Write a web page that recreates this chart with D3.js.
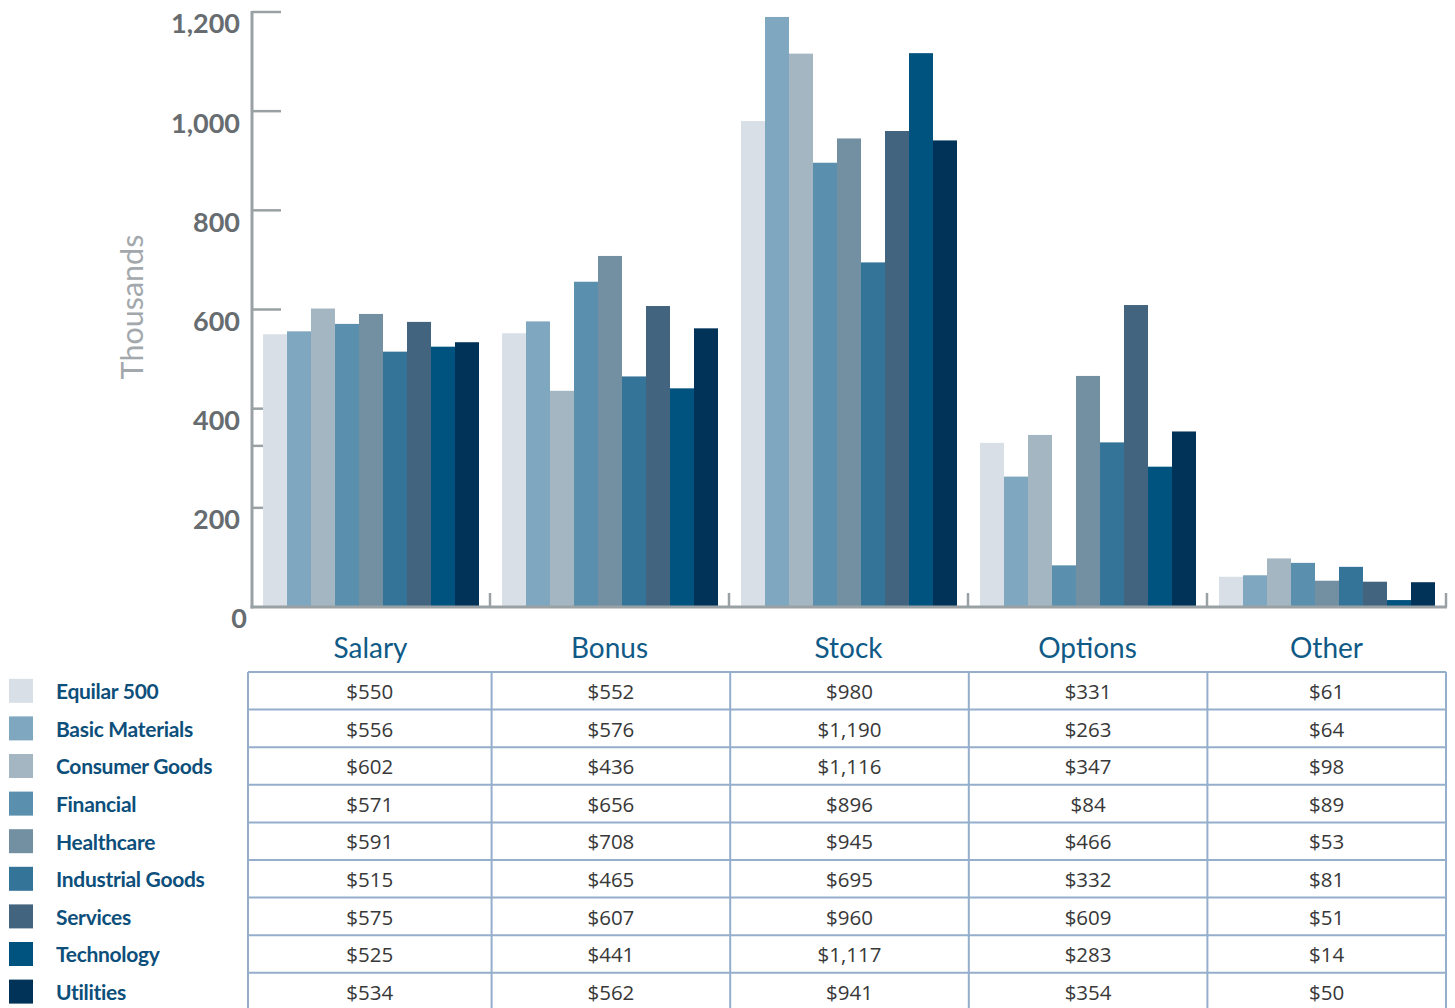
<!DOCTYPE html>
<html>
<head>
<meta charset="utf-8">
<script src="https://cdn.jsdelivr.net/npm/d3@7"></script>
<style>
  html, body { margin: 0; padding: 0; background: #ffffff; }
  svg { display: block; }
</style>
</head>
<body>
<svg id="chart" width="1455" height="1008"></svg>
<script>
// Pay components (columns of the table, groups of bars)
const categories = ["Salary", "Bonus", "Stock", "Options", "Other"];

// Industry series
const series = ["Equilar 500", "Basic Materials", "Consumer Goods", "Financial",
                "Healthcare", "Industrial Goods", "Services", "Technology", "Utilities"];

// Values in thousands of dollars, one array per component, ordered as `series`
const salary  = [550, 556, 602, 571, 591, 515, 575, 525, 534];
const bonus   = [552, 576, 436, 656, 708, 465, 607, 441, 562];
const stock   = [980, 1190, 1116, 896, 945, 695, 960, 1117, 941];
const options = [331, 263, 347, 84, 466, 332, 609, 283, 354];
const other   = [61, 64, 98, 89, 53, 81, 51, 14, 50];

const yTicks = [0, 200, 400, 600, 800, 1000, 1200];
const yMinorTicks = [325];

const colors = ["#d8dfe6", "#7fa8c0", "#a5b6c3", "#5a8fad", "#738fa2",
                "#357499", "#42647f", "#00527f", "#013257"];

const valuesByCategory = { Salary: salary, Bonus: bonus, Stock: stock, Options: options, Other: other };

const svg = d3.select("#chart");

const plotLeft = 252, plotRight = 1447, plotTop = 12, plotBottom = 607;

const y = d3.scaleLinear().domain([0, 1200]).range([plotBottom, plotTop]);
const x0 = d3.scaleBand().domain(categories).range([plotLeft, plotRight]).padding(0);
const x1 = d3.scaleBand().domain(series).range([11, 227]).padding(0);
const color = d3.scaleOrdinal().domain(series).range(colors);

const axisColor = "#9aa1a5";

// Y axis ticks (drawn first so bars sit on top)
const gTicks = svg.append("g");
gTicks.selectAll("line.major")
  .data(yTicks.filter(d => d > 0))
  .join("line")
  .attr("x1", plotLeft).attr("x2", plotLeft + 29)
  .attr("y1", d => y(d)).attr("y2", d => y(d))
  .attr("stroke", axisColor).attr("stroke-width", 2.5);
gTicks.selectAll("line.minor")
  .data(yMinorTicks)
  .join("line")
  .attr("x1", plotLeft).attr("x2", plotLeft + 12)
  .attr("y1", d => y(d)).attr("y2", d => y(d))
  .attr("stroke", axisColor).attr("stroke-width", 2.5);

// Bars
const groups = svg.append("g").selectAll("g")
  .data(categories)
  .join("g")
  .attr("transform", d => `translate(${x0(d)},0)`);

groups.selectAll("rect")
  .data(c => series.map((s, i) => ({ s, v: valuesByCategory[c][i] })))
  .join("rect")
  .attr("x", d => x1(d.s))
  .attr("width", x1.bandwidth())
  .attr("y", d => y(d.v))
  .attr("height", d => y(0) - y(d.v))
  .attr("fill", d => color(d.s));

// Y axis line
svg.append("line")
  .attr("x1", plotLeft).attr("x2", plotLeft)
  .attr("y1", y(1200) - 1).attr("y2", plotBottom + 1.5)
  .attr("stroke", axisColor).attr("stroke-width", 3);

// Baseline and group separators
svg.append("line")
  .attr("x1", plotLeft - 1.5).attr("x2", plotRight)
  .attr("y1", plotBottom).attr("y2", plotBottom)
  .attr("stroke", axisColor).attr("stroke-width", 3);

svg.append("g").selectAll("line")
  .data(categories)
  .join("line")
  .attr("x1", d => x0(d) + x0.bandwidth() - 1)
  .attr("x2", d => x0(d) + x0.bandwidth() - 1)
  .attr("y1", plotBottom - 14).attr("y2", plotBottom)
  .attr("stroke", axisColor).attr("stroke-width", 2.5);

// Y tick labels
const fmt = d3.format(",");
svg.append("g").selectAll("text")
  .data(yTicks)
  .join("text")
  .attr("x", d => d === 0 ? 247 : 240)
  .attr("y", d => y(d) + 12)
  .attr("dy", "0.35em")
  .attr("text-anchor", "end")
  .attr("font-family", "Lato, 'Open Sans', sans-serif")
  .attr("font-weight", 700)
  .attr("font-size", 27)
  .attr("fill", "#666c70")
  .text(d => fmt(d));

// Y axis title
svg.append("text")
  .attr("transform", "translate(132,307) rotate(-90)")
  .attr("text-anchor", "middle")
  .attr("dy", "0.35em")
  .attr("font-family", "Lato, 'Open Sans', sans-serif")
  .attr("font-weight", 400)
  .attr("font-size", 30.5)
  .attr("fill", "#a3a8ac")
  .text("Thousands");

// Category labels
svg.append("g").selectAll("text")
  .data(categories)
  .join("text")
  .attr("x", d => x0(d) + x0.bandwidth() / 2 - 1)
  .attr("y", 648)
  .attr("dy", "0.35em")
  .attr("text-anchor", "middle")
  .attr("font-family", "Lato, 'Open Sans', sans-serif")
  .attr("font-size", 28)
  .attr("fill", "#0f5a86")
  .text(d => d);

// Data table
const tableTop = 672, rowH = 37.6;
const tableLeft = 248, tableRight = 1446;
const firstColExtra = 5; // first column is a little wider than the rest
const tx = d3.scaleBand().domain(categories).range([tableLeft + firstColExtra, tableRight]).padding(0);
const colLeft = c => c === categories[0] ? tableLeft : tx(c);
const colCenter = c => (colLeft(c) + tx(c) + tx.bandwidth()) / 2;
const ty = d3.scaleBand().domain(series).range([tableTop, tableTop + rowH * series.length]).padding(0);
const gridColor = "#94aecb";

const table = svg.append("g");
// horizontal rules
table.selectAll("line.h")
  .data(series.map(s => ty(s)).concat([ty(series[series.length - 1]) + ty.bandwidth()]))
  .join("line")
  .attr("x1", tableLeft).attr("x2", tableRight)
  .attr("y1", d => d).attr("y2", d => d)
  .attr("stroke", gridColor).attr("stroke-width", 2);
// vertical rules
table.selectAll("line.v")
  .data(categories.map(c => colLeft(c)).concat([tableRight]))
  .join("line")
  .attr("x1", d => d).attr("x2", d => d)
  .attr("y1", tableTop).attr("y2", tableTop + rowH * series.length)
  .attr("stroke", gridColor).attr("stroke-width", 2);

const dollar = d3.format("$,");
categories.forEach(c => {
  table.append("g").selectAll("text")
    .data(series.map((s, i) => ({ s, v: valuesByCategory[c][i] })))
    .join("text")
    .attr("x", colCenter(c))
    .attr("y", d => ty(d.s) + ty.bandwidth() / 2 + 1)
    .attr("dy", "0.35em")
    .attr("text-anchor", "middle")
    .attr("font-family", "'Open Sans', sans-serif")
    .attr("font-size", 20.5)
    .attr("fill", "#383838")
    .text(d => dollar(d.v));
});

// Legend
const legend = svg.append("g").selectAll("g")
  .data(series)
  .join("g")
  .attr("transform", d => `translate(9,${ty(d) + ty.bandwidth() / 2})`);

legend.append("rect")
  .attr("x", 0).attr("y", -12)
  .attr("width", 24).attr("height", 24)
  .attr("fill", d => color(d));

legend.append("text")
  .attr("x", 47)
  .attr("y", 1)
  .attr("dy", "0.35em")
  .attr("font-family", "Lato, 'Open Sans', sans-serif")
  .attr("font-weight", 700)
  .attr("font-size", 21)
  .attr("letter-spacing", -0.3)
  .attr("fill", "#0d4f7b")
  .text(d => d);
</script>
</body>
</html>
